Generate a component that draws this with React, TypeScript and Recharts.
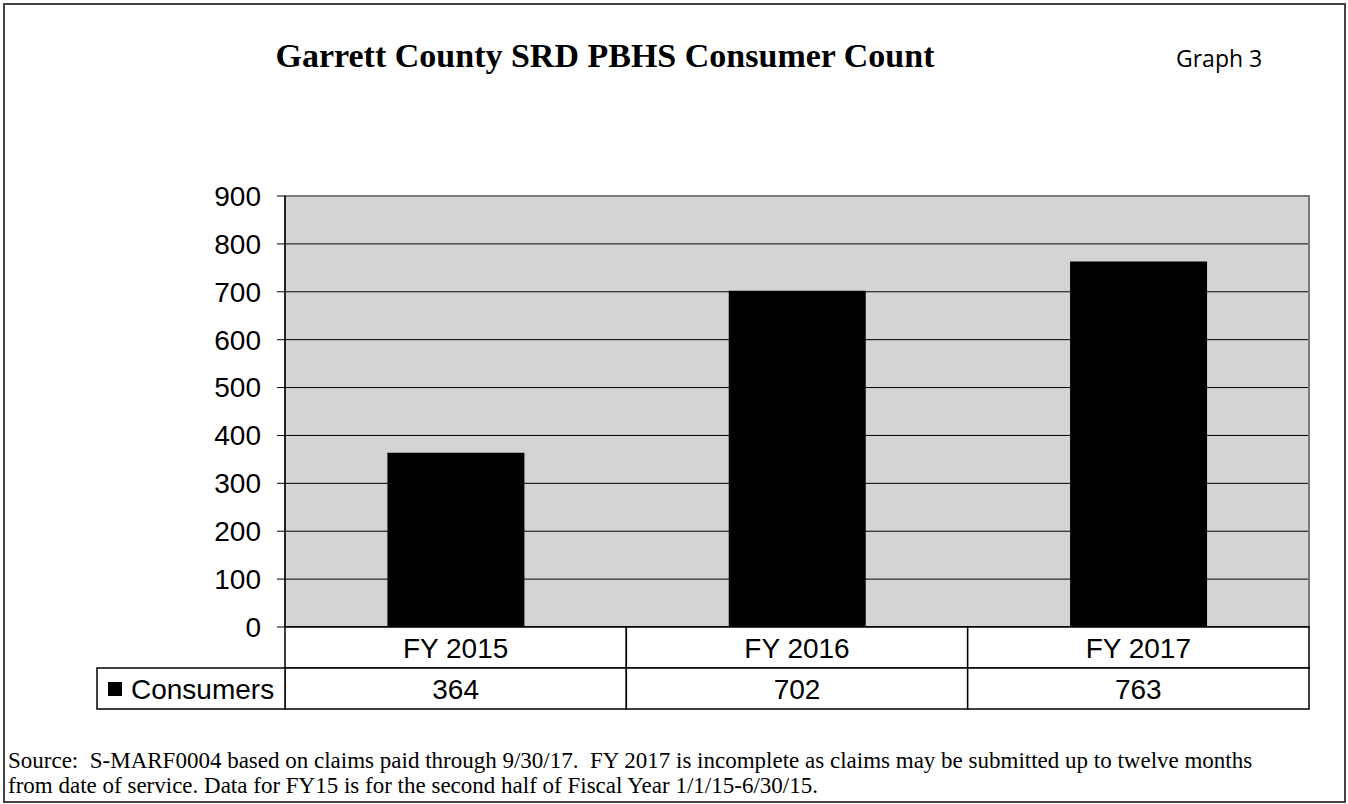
import React from 'react';
import { BarChart, Bar, XAxis, YAxis, CartesianGrid, ReferenceArea } from 'recharts';

const categories = ['FY 2015', 'FY 2016', 'FY 2017'];
const consumers = [364, 702, 763];
const yTicks = [0, 100, 200, 300, 400, 500, 600, 700, 800, 900];
const seriesName = 'Consumers';

const data = categories.map((c, i) => ({ year: c, consumers: consumers[i] }));

const ARIAL = 'Arial, "Liberation Sans", sans-serif';
const TIMES = '"Times New Roman", "Liberation Serif", serif';

// draws the data table under the plot: category row + value row
const TableTick = (props: any) => {
  const { x, y, payload, index } = props;
  const half = payload && payload.offset ? payload.offset : 170.7;
  const left = x - half;
  const w = half * 2;
  const rowH = 41;
  return (
    <g>
      <rect x={left} y={y} width={w} height={rowH} fill="#fff" stroke="#000" strokeWidth={1.5} />
      <text x={x} y={y + rowH / 2 + 10} textAnchor="middle" fontFamily={ARIAL} fontSize={28} fill="#000">
        {payload.value}
      </text>
      <rect x={left} y={y + rowH} width={w} height={rowH} fill="#fff" stroke="#000" strokeWidth={1.5} />
      <text x={x} y={y + rowH * 1.5 + 10} textAnchor="middle" fontFamily={ARIAL} fontSize={28} fill="#000">
        {consumers[index]}
      </text>
      {index === 0 && (
        <g>
          <rect x={left - 188} y={y + rowH} width={188} height={rowH} fill="#fff" stroke="#000" strokeWidth={1.5} />
          <rect x={left - 177} y={y + rowH + 14} width={14} height={14} fill="#000" />
          <text x={left - 154} y={y + rowH * 1.5 + 10} fontFamily={ARIAL} fontSize={28} fill="#000">
            {seriesName}
          </text>
        </g>
      )}
    </g>
  );
};

export default function App() {
  return (
    <div style={{ position: 'absolute', left: 0, top: 0, width: 1348, height: 804, background: '#fff' }}>
      <div
        style={{
          position: 'absolute', left: 3, top: 3, width: 1339, height: 796,
          border: '2px solid #444',
        }}
      />
      <div
        style={{
          position: 'absolute', left: 0, top: 37, width: 1210, textAlign: 'center',
          fontFamily: TIMES, fontWeight: 'bold', fontSize: 34, color: '#000',
        }}
      >
        Garrett County SRD PBHS Consumer Count
      </div>
      <div
        style={{
          position: 'absolute', left: 1176, top: 42, fontFamily: '"Open Sans", sans-serif',
          fontSize: 23, color: '#000',
        }}
      >
        Graph 3
      </div>
      <BarChart
        width={1348}
        height={804}
        data={data}
        margin={{ top: 196, right: 39, bottom: 95, left: 205 }}
        barCategoryGap="30%"
        style={{ position: 'absolute', left: 0, top: 0 }}
      >
        <CartesianGrid vertical={false} stroke="#000" strokeOpacity={1} fill="#d4d4d4" fillOpacity={1} />
        <ReferenceArea
          x1="FY 2015"
          x2="FY 2017"
          y1={0}
          y2={900}
          fill="none"
          stroke="#7a7a7a"
          strokeWidth={2}
          ifOverflow="visible"
        />
        <XAxis
          dataKey="year"
          height={82}
          axisLine={{ stroke: '#000', strokeWidth: 1.5 }}
          tickLine={false}
          tickSize={0}
          tickMargin={0}
          interval={0}
          tick={<TableTick />}
        />
        <YAxis
          width={80}
          domain={[0, 900]}
          ticks={yTicks}
          interval={0}
          axisLine={{ stroke: '#222', strokeWidth: 2 }}
          tickLine={{ stroke: '#000' }}
          tickSize={8}
          tickMargin={16}
          tick={{ fontFamily: ARIAL, fontSize: 28, fill: '#000' }}
        />
        <Bar dataKey="consumers" name={seriesName} fill="#000" isAnimationActive={false} />
      </BarChart>
      <div
        style={{
          position: 'absolute', left: 8, top: 748, width: 1336, fontFamily: TIMES,
          fontSize: 23, lineHeight: '25px', color: '#000', whiteSpace: 'nowrap',
        }}
      >
        Source:&nbsp; S-MARF0004 based on claims paid through 9/30/17.&nbsp; FY 2017 is incomplete as claims may be submitted up to twelve months
        <br />
        from date of service. Data for FY15 is for the second half of Fiscal Year 1/1/15-6/30/15.
      </div>
    </div>
  );
}
